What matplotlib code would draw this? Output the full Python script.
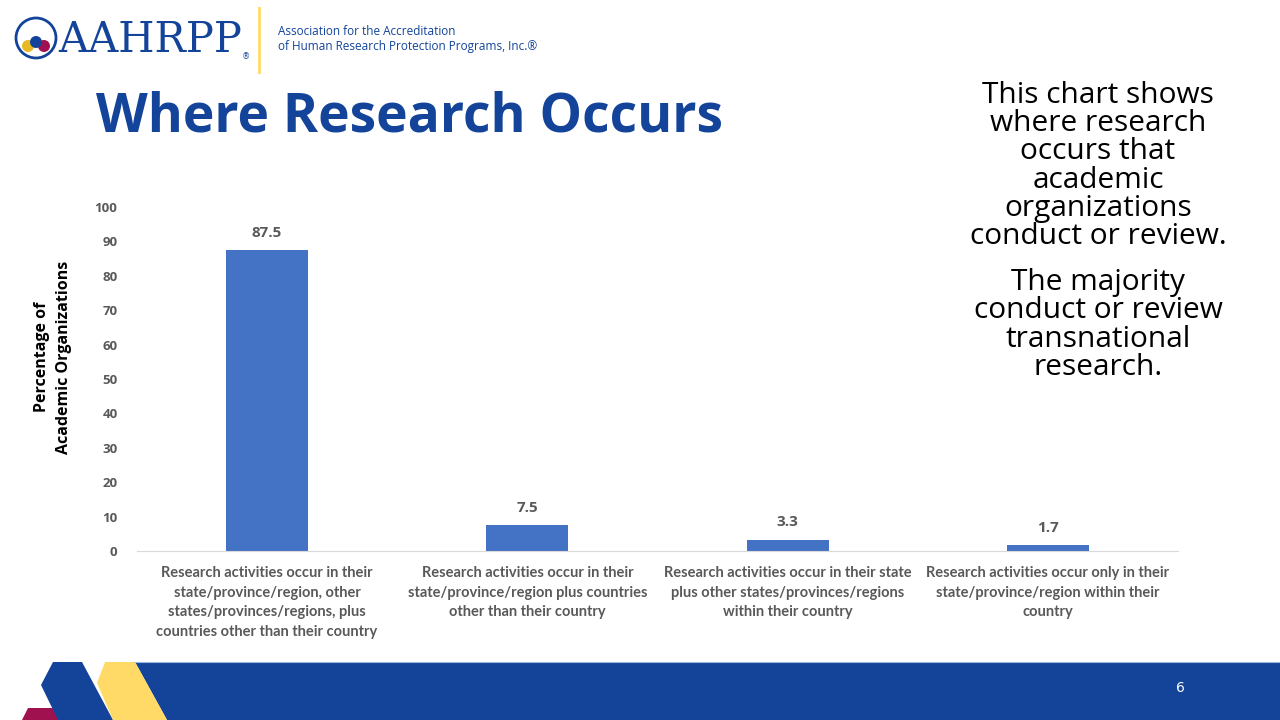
import matplotlib
matplotlib.use("Agg")
import matplotlib.pyplot as plt
from matplotlib.patches import Polygon, Circle

# chart data
categories = [
    "Research activities occur in their\nstate/province/region, other\nstates/provinces/regions, plus\ncountries other than their country",
    "Research activities occur in their\nstate/province/region plus countries\nother than their country",
    "Research activities occur in their state\nplus other states/provinces/regions\nwithin their country",
    "Research activities occur only in their\nstate/province/region within their\ncountry",
]
values = [87.5, 7.5, 3.3, 1.7]
yticks = [0, 10, 20, 30, 40, 50, 60, 70, 80, 90, 100]

blue_dark = "#13449A"
bar_color = "#4472C4"
gray = "#595959"

fig = plt.figure(figsize=(12.8, 7.2), dpi=100)

# background decoration layer (pixel coords)
bg = fig.add_axes([0, 0, 1, 1])
bg.set_xlim(0, 1280)
bg.set_ylim(720, 0)
bg.axis("off")

# bottom band
bg.add_patch(Polygon([(135, 662), (1280, 662), (1280, 720), (167, 720)], color=blue_dark, lw=0))
bg.plot([135, 1280], [662, 662], color="#9DB8E0", lw=0.8)
bg.add_patch(Polygon([(28, 708), (55, 708), (60, 720), (22, 720)], color="#A0124F", lw=0))
bg.add_patch(Polygon([(53, 662), (82, 662), (113, 720), (58, 720), (41, 685)], color=blue_dark, lw=0))
bg.add_patch(Polygon([(105, 662), (135, 662), (167, 720), (113, 720), (97, 683)], color="#FFDA66", lw=0))
bg.text(1180, 688, "6", color="white", fontsize=10, ha="center", va="center")

# logo
bg.add_patch(Circle((36, 38), 20, fill=False, ec=blue_dark, lw=2))
bg.add_patch(Circle((28, 46), 6, color="#E8B923", lw=0))
bg.add_patch(Circle((44, 46), 6, color="#A0124F", lw=0))
bg.add_patch(Circle((36, 42), 6, color=blue_dark, lw=0))
bg.text(58, 40, "AAHRPP", family="DejaVu Serif", fontsize=30, color=blue_dark,
        ha="left", va="center")
bg.text(242, 57, "®", fontsize=6, color=blue_dark, ha="left", va="center")
bg.plot([259, 259], [8, 72], color="#FFDA66", lw=2)
bg.text(278, 39, "Association for the Accreditation\nof Human Research Protection Programs, Inc.®",
        family="Open Sans", fontsize=8.5, color=blue_dark, ha="left", va="center",
        linespacing=1.15)

# title
bg.text(96, 117, "Where Research Occurs", family="Open Sans", fontweight="bold",
        fontsize=38.5, color=blue_dark, ha="left", va="center")

# side note
bg.text(1098, 166, "This chart shows\nwhere research\noccurs that\nacademic\norganizations\nconduct or review.",
        family="Open Sans", fontsize=21.5, color="black", ha="center", va="center",
        linespacing=0.97)
bg.text(1098, 325, "The majority\nconduct or review\ntransnational\nresearch.",
        family="Open Sans", fontsize=21.5, color="black", ha="center", va="center",
        linespacing=0.97)

# chart
ax = fig.add_axes([137 / 1280, 1 - 551 / 720, (1178 - 137) / 1280, (551 - 207) / 720])
x = list(range(len(categories)))
ax.bar(x, values, width=0.315, color=bar_color, zorder=2)
for xi, v in zip(x, values):
    ax.text(xi, v + 3, f"{v:.1f}", ha="center", va="bottom", fontsize=11,
            fontweight="bold", color=gray, family="Open Sans")

ax.set_xlim(-0.5, 3.5)
ax.set_ylim(0, 100)
ax.set_yticks(yticks)
ax.set_yticklabels([str(t) for t in yticks], fontsize=9.5, fontweight="bold",
                   color=gray, family="Open Sans")
ax.set_xticks(x)
ax.set_xticklabels(categories, fontsize=10.5, fontweight="bold", color=gray,
                   family="Lato", linespacing=1.5)
ax.tick_params(axis="both", length=0)
ax.tick_params(axis="y", pad=14)
ax.tick_params(axis="x", pad=11)
for side in ["top", "right", "left"]:
    ax.spines[side].set_visible(False)
ax.spines["bottom"].set_color("#D9D9D9")
ax.set_facecolor("none")

fig.text(53 / 1280, 1 - 357 / 720, "Percentage of\nAcademic Organizations", rotation=90,
         ha="center", va="center", fontsize=11.5, fontweight="bold", color="black",
         family="Open Sans", linespacing=1.5)

fig.savefig("out.png", dpi=100)
